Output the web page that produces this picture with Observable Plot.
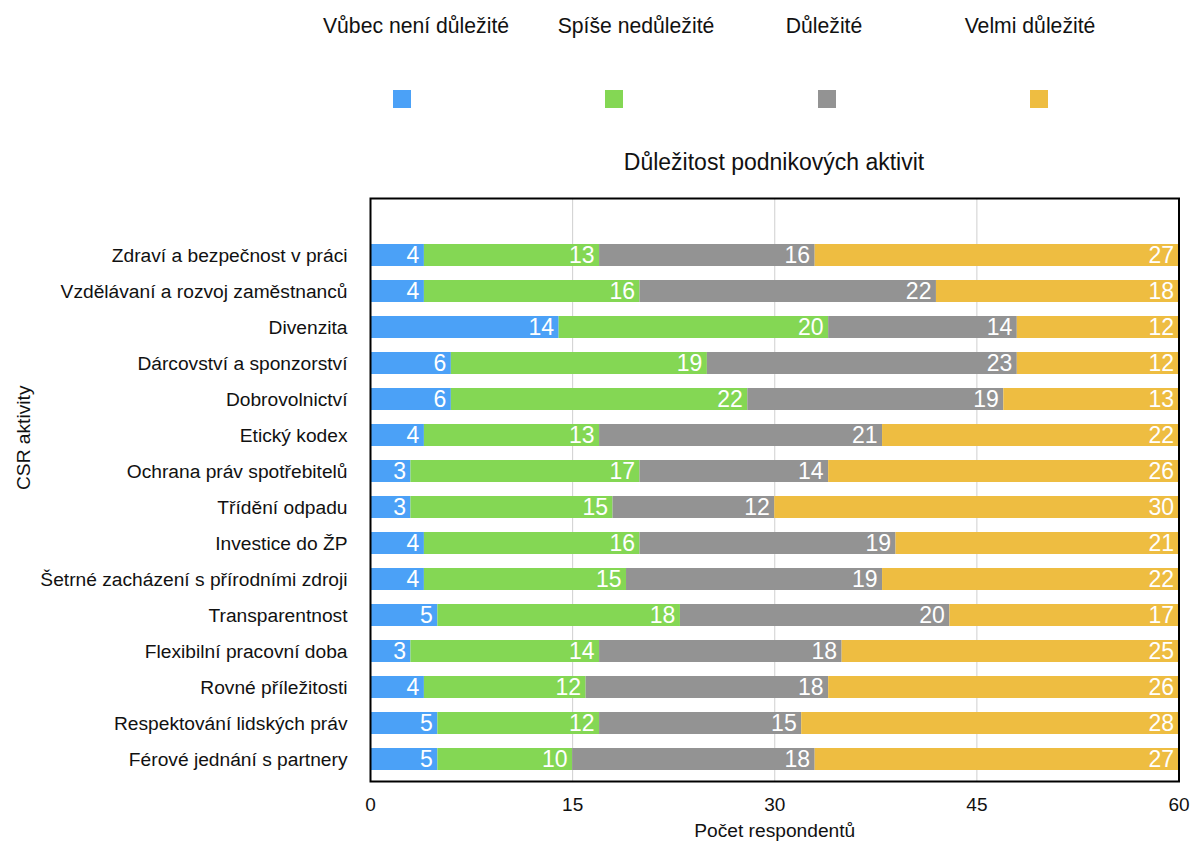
<!DOCTYPE html>
<html lang="cs">
<head>
<meta charset="utf-8">
<script src="https://cdn.jsdelivr.net/npm/d3@7"></script>
<script src="https://cdn.jsdelivr.net/npm/@observablehq/plot@0.6"></script>
<style>
  html, body { margin: 0; padding: 0; background: #fff; }
  body { font-family: "Liberation Sans", Arial, Helvetica, sans-serif; color: #111; }
  #head { position: relative; width: 1190px; height: 185px; }
  .lab { position: absolute; transform: translate(-50%, -50%); white-space: nowrap; }
  .sw { position: absolute; width: 18px; height: 18px; }
  .legend-label { font-size: 21.2px; }
  .title { font-size: 23px; }
</style>
</head>
<body>
<div id="head"></div>
<div id="chart"></div>
<script>
// CSR activities, top to bottom
const categories = [
  "Zdraví a bezpečnost v práci",
  "Vzdělávaní a rozvoj zaměstnanců",
  "Divenzita",
  "Dárcovství a sponzorství",
  "Dobrovolnictví",
  "Etický kodex",
  "Ochrana práv spotřebitelů",
  "Třídění odpadu",
  "Investice do ŽP",
  "Šetrné zacházení s přírodními zdroji",
  "Transparentnost",
  "Flexibilní pracovní doba",
  "Rovné příležitosti",
  "Respektování lidských práv",
  "Férové jednání s partnery"
];

// Answer levels and their colours
const levels = ["Vůbec není důležité", "Spíše nedůležité", "Důležité", "Velmi důležité"];
const colors = ["#4ba1f7", "#84d754", "#939393", "#eebd41"];

// Number of respondents per level, in category order
const notImportant      = [4, 4, 14, 6, 6, 4, 3, 3, 4, 4, 5, 3, 4, 5, 5];
const ratherUnimportant = [13, 16, 20, 19, 22, 13, 17, 15, 16, 15, 18, 14, 12, 12, 10];
const important         = [16, 22, 14, 23, 19, 21, 14, 12, 19, 19, 20, 18, 18, 15, 18];
const veryImportant     = [27, 18, 12, 12, 13, 22, 26, 30, 21, 22, 17, 25, 26, 28, 27];

const xTicks = [0, 15, 30, 45, 60];
const gridTicks = [15, 30, 45];

const title = "Důležitost podnikových aktivit";
const xLabel = "Počet respondentů";
const yLabel = "CSR aktivity";

// ---- header: legend and title ----
const head = document.getElementById("head");
const labelCenters = [416, 636, 824, 1030];
const swatchLeft = [393, 605, 818, 1030];
levels.forEach((lv, i) => {
  const t = document.createElement("div");
  t.className = "lab legend-label";
  t.style.left = labelCenters[i] + "px";
  t.style.top = "26px";
  t.textContent = lv;
  head.appendChild(t);
  const s = document.createElement("div");
  s.className = "sw";
  s.style.left = swatchLeft[i] + "px";
  s.style.top = "90px";
  s.style.background = colors[i];
  head.appendChild(s);
});
const tt = document.createElement("div");
tt.className = "lab title";
tt.style.left = "774px";
tt.style.top = "162px";
tt.textContent = title;
head.appendChild(tt);

// ---- chart ----
const series = [notImportant, ratherUnimportant, important, veryImportant];
const rows = levels.flatMap((level, i) =>
  categories.map((activity, j) => ({ activity, level, value: series[i][j] }))
);

const chart = Plot.plot({
  width: 1190,
  height: 662,
  marginTop: 13,
  marginBottom: 66,
  marginLeft: 370,
  marginRight: 11.5,
  style: { fontFamily: "'Liberation Sans', Arial, Helvetica, sans-serif", fontSize: "19px", color: "#111", background: "#fff" },
  x: { domain: [0, 60], label: null },
  y: { domain: categories, range: [42.5, 601.9], padding: 0.395, label: null },
  color: { domain: levels, range: colors },
  marks: [
    Plot.ruleX(gridTicks, { stroke: "#cfcfcf", strokeWidth: 1 }),
    Plot.barX(rows, { x: "value", y: "activity", fill: "level" }),
    Plot.text(rows, Plot.stackX2({
      x: "value", y: "activity", z: "level", text: "value",
      textAnchor: "end", dx: -5, fill: "white", fontSize: 23
    })),
    Plot.axisX({ ticks: xTicks, tickSize: 0, tickPadding: 16, label: null, fontSize: 19 }),
    Plot.axisY({ tickSize: 0, tickPadding: 23, label: null, fontSize: 19.2 }),
    Plot.text([xLabel], { text: d => d, frameAnchor: "bottom", dy: 55, fontSize: 19.2 }),
    Plot.text([yLabel], { text: d => d, frameAnchor: "left", dx: -347, rotate: -90, fontSize: 19.2 }),
    Plot.frame({ stroke: "black", strokeWidth: 2 })
  ]
});
document.getElementById("chart").appendChild(chart);
</script>
</body>
</html>
